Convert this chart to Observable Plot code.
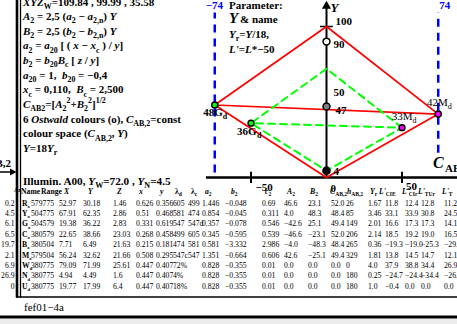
<!DOCTYPE html>
<html><head><meta charset="utf-8">
<script src="https://cdn.jsdelivr.net/npm/d3@7"></script>
<script src="https://cdn.jsdelivr.net/npm/@observablehq/plot@0.6"></script>
<style>
html,body{margin:0;padding:0;background:#fff;}
#chart{position:relative;width:457px;height:324px;overflow:hidden;}
#chart svg{display:block;}
</style></head><body><div id="chart"></div>
<script>
// ---------- chart data (C_AB,2 , Y) ----------
const ptC = [0, 0, 0, -74, 74, -50, 50];
const ptY = [90, 47, 4.5, 48, 42, 36, 33];
const ptCat = ["W", "Z", "N", "Gd", "Md", "Go", "Mo"];
const ptLabel = ["90", "47", "4", "48G", "42M", "36G", "33M"];
const ptSub = ["", "", "", "d", "d", "d", "d"];

const redC = [-74, 0, 74, 0, -74, 74];
const redY = [48, 100, 42, 0, 48, 42];
const greenC = [50, 0, -50, 0, 50, -50];
const greenY = [33, 72, 36, 4.5, 33, 36];

const blueC = [-74, 74];
const blueLow = [3, 16];
const blueLabels = ["\u221274", "74"];
const xTicks = [-50, 0, 50];
const xTickLabels = ["\u221250", "0", "50"];
const yTicks = [100, 50];
const yTickLabels = ["100", "50"];

// ---------- text data ----------
const leftLines = [
  "~{XYZ}_{W}=109.84 , 99.99 , 35.58",
  "~{A}_{2} = 2,5 (~{a}_{2} \u2212 ~{a}_{2,n}) ~{Y}",
  "~{B}_{2} = 2,5 (~{b}_{2} \u2212 ~{b}_{2,n}) ~{Y}",
  "~{a}_{2} = ~{a}_{20} [ ( ~{x} \u2212 ~{x}_{c} ) / ~{y}]",
  "~{b}_{2} = ~{b}_{20}~{B}_{c} [ ~{z} / ~{y}]",
  "~{a}_{20} = 1,  ~{b}_{20} = \u22120,4",
  "~{x}_{c} = 0,110,  ~{B}_{c} = 2,500",
  "~{C}_{AB2}=[~{A}_{2}^{2}+~{B}_{2}^{2}]^{1/2}",
  "6 ~{Ostwald} colours (o), ~{C}_{AB,2}=const",
  "colour space (~{C}_{AB,2}, ~{Y})",
  "~{Y}=18~{Y}_{r}"
];
const paramLines = ["Parameter:", "& name", "~{Y}_{r}=~{Y}/18,", "~{L'}=~{L}*\u221250"];
const illumLine = "Illumin. A00, ~{Y}_{W}=72.0 , ~{Y}_{N}=4.5";
const header = ["Name", "Range", "~{X}", "~{Y}", "~{Z}", "~{x}", "~{y}", "\u03bb_{d}", "\u03bb_{c}",
  "~{a}_{2}", "~{b}_{2}", "~{c}_{2}", "~{A}_{2}", "~{B}_{2}", "~{C}_{AB,2}", "~{h}_{AB,2}",
  "~{Y}_{r}", "~{L'}_{CIE}", "~{L'}_{CIr}", "~{L'}_{TUr}", "~{L'}_{T}"];
const rowR = ["R_{o}", "579_775", "52.97", "30.18", "1.46", "0.626", "0.356", "605", "499", "1.446", "\u22120.048", "0.69", "46.6", "23.1", "52.0", "26", "1.67", "11.8", "12.4", "12.8", "11.2"];
const rowY = ["Y_{o}", "504_775", "67.91", "62.35", "2.86", "0.51", "0.468", "581", "474", "0.854", "\u22120.045", "0.311", "4.0", "48.3", "48.4", "85", "3.46", "33.1", "33.9", "30.8", "24.5"];
const rowG = ["G_{o}", "504_579", "19.38", "36.22", "2.83", "0.331", "0.619", "547", "547d", "0.357", "\u22120.078", "0.546", "\u221242.6", "25.1", "49.4", "149", "2.01", "16.6", "17.3", "17.3", "14.1"];
const rowC = ["C_{o}", "380_579", "22.65", "38.66", "23.03", "0.268", "0.458", "499", "605", "0.345", "\u22120.595", "0.539", "\u221246.6", "\u221223.1", "52.0", "206", "2.14", "18.5", "19.2", "19.0", "16.5"];
const rowB = ["B_{o}", "380_504", "7.71", "6.49", "21.63", "0.215", "0.181", "474", "581", "0.581", "\u22123.332", "2.986", "\u22124.0", "\u221248.3", "48.4", "265", "0.36", "\u221219.3", "\u221219.0", "\u221225.3", "\u221229.7"];
const rowM = ["M_{o}", "579_504", "56.24", "32.62", "21.66", "0.508", "0.295", "547c", "547", "1.351", "\u22120.664", "0.606", "42.6", "\u221225.1", "49.4", "329", "1.81", "13.8", "14.5", "14.7", "12.1"];
const rowW = ["W_{d}", "380_775", "79.09", "71.99", "25.61", "0.447", "0.407", "72%", "", "0.828", "\u22120.355", "0.01", "0.0", "0.0", "0.0", "0", "4.0", "37.9", "38.8", "34.4", "26.9"];
const rowN = ["N_{d}", "380_775", "4.94", "4.49", "1.6", "0.447", "0.407", "4%", "", "0.828", "\u22120.355", "0.01", "0.0", "0.0", "0.0", "180", "0.25", "\u221224.7", "\u221224.4", "\u221234.4", "\u221226.9"];
const rowU = ["U_{d}", "380_775", "19.77", "17.99", "6.4", "0.447", "0.407", "18%", "", "0.828", "\u22120.355", "0.01", "0.0", "0.0", "0.0", "180", "1.0", "\u22120.4", "0.0", "0.0", "0.0"];
const rows = [rowR, rowY, rowG, rowC, rowB, rowM, rowW, rowN, rowU];
const stripVals = ["0.2", "4.5", "6.1", "6.5", "19.7", "2.1", "6.9", "26.9", "0"];

// ---------- styles / layout ----------
const FONT = "'Liberation Serif','Times New Roman',serif";
const fillOf = {W: "white", Z: "#808080", N: "black", Gd: "#00ff00", Md: "#ff00ff", Go: "#00ff00", Mo: "#ff00ff"};
const radiusOf = {W: 7, Z: 7, N: 7.5, Gd: 5.5, Md: 5.5, Go: 5, Mo: 5};
const labelOff = [
  {dx: 7, dy: 3, anchor: "start", weight: "bold"},
  {dx: 9, dy: 4, anchor: "start", weight: "bold"},
  {dx: 7, dy: 1, anchor: "start", weight: "bold"},
  {dx: 8, dy: 7, anchor: "end", weight: "bold", sdx: 8},
  {dx: 9.5, dy: -11.5, anchor: "end", weight: "normal", sdx: 9.5},
  {dx: -14, dy: 8.5, anchor: "start", weight: "bold", sdx: 6},
  {dx: 10.5, dy: -11, anchor: "end", weight: "normal", sdx: 10.5}
];
const blueLabDx = [-9, 1];

const K = 1.51; // px per unit
const X0 = 326, Y0 = 177;

const idx = d3.range(ptC.length);
const marks = [
  // blue dashed limits
  Plot.ruleX(blueC, {y1: blueLow, y2: 109, stroke: "#0000ff", strokeWidth: 2.5, strokeDasharray: "8,6"})
];
blueC.forEach((c, i) => marks.push(Plot.text([c], {x: c, y: 109, text: () => blueLabels[i], dx: blueLabDx[i], dy: -7,
  textAnchor: "start", fill: "#0000ff", fontWeight: "bold", fontSize: 11})));
marks.push(
  // axes
  Plot.ruleY([0], {x1: -79.5, x2: 100, stroke: "black", strokeWidth: 2.5}),
  Plot.ruleX([0], {y1: 0, y2: 113, stroke: "black", strokeWidth: 2}),
  Plot.dot([0], {x: [0], y: [113.5], symbol: "triangle", r: 3.4, fill: "black", stroke: "none"}),
  Plot.ruleX([-50, 50], {y1: -4, y2: 3.5, stroke: "black", strokeWidth: 2}),
  Plot.ruleY([100], {x1: -4, x2: 4.5, stroke: "black", strokeWidth: 1.5}),
  // hull lines
  Plot.line(redC, {x: redC, y: redY, stroke: "#ff0000", strokeWidth: 1.7, curve: "linear"}),
  Plot.line(greenC, {x: greenC, y: greenY, stroke: "#00ff00", strokeWidth: 2, strokeDasharray: "7,5", curve: "linear"}),
  // points
  Plot.dot(idx, {x: i => ptC[i], y: i => ptY[i], r: i => radiusOf[ptCat[i]], fill: i => fillOf[ptCat[i]],
    stroke: "black", strokeWidth: 1.5})
);
// point labels
idx.forEach(i => {
  const o = labelOff[i];
  marks.push(Plot.text([i], {x: ptC[i], y: ptY[i], text: () => ptLabel[i], dx: o.dx, dy: o.dy,
    textAnchor: o.anchor, fontWeight: o.weight, fontSize: 11, fill: "black"}));
  if (ptSub[i]) marks.push(Plot.text([i], {x: ptC[i], y: ptY[i], text: () => ptSub[i], dx: o.sdx, dy: o.dy + 4,
    textAnchor: "start", fontWeight: o.weight, fontSize: 8, fill: "black"}));
});
// axis tick labels
const xLabOff = [{dx: 4.5, dy: 9.5}, {dx: 4, dy: 11}, {dx: 4, dy: 9}];
xTicks.forEach((t, i) => marks.push(Plot.text([t], {x: t, y: 0, text: () => xTickLabels[i],
  dx: xLabOff[i].dx, dy: xLabOff[i].dy, textAnchor: "start", fontWeight: "bold", fontSize: 11})));
const yLabOff = [{dx: 9, dy: -5}, {dx: 7, dy: -10}];
yTicks.forEach((t, i) => marks.push(Plot.text([t], {x: 0, y: t, text: () => yTickLabels[i],
  dx: yLabOff[i].dx, dy: yLabOff[i].dy, textAnchor: "start", fontWeight: "bold", fontSize: 11})));
marks.push(Plot.text(["Y"], {x: 0, y: 113.5, text: d => d, dx: 4, dy: 1.5, textAnchor: "start",
  fontWeight: "bold", fontStyle: "italic", fontSize: 13}));

const svg = Plot.plot({
  width: 457, height: 324, margin: 0,
  x: {domain: [-100, 80], range: [X0 - 100 * K, X0 + 80 * K], axis: null},
  y: {domain: [0, 100], range: [Y0, Y0 - 100 * K], axis: null},
  style: {fontFamily: FONT, fontSize: "11px", background: "white", overflow: "hidden"},
  marks
});
document.getElementById("chart").appendChild(svg);

// ---------- rich text overlay ----------
const ov = d3.select(svg).append("g").attr("font-family", FONT);
function rich(parent, str, x, y, o = {}) {
  const size = o.size || 11;
  const subScale = o.subScale || 0.72;
  const t = parent.append("text").attr("x", x).attr("y", y)
    .attr("font-size", size).attr("font-weight", o.weight || "bold")
    .attr("text-anchor", o.anchor || "start").attr("fill", o.fill || "black")
    .style("white-space", "pre");
  if (o.italic) t.attr("font-style", "italic");
  const re = /([_^~])\{([^}]*)\}|([^_^~]+)/g;
  let m, cur = 0;
  while ((m = re.exec(str))) {
    const kind = m[1] || "", txt = m[1] ? m[2] : m[3];
    const span = t.append("tspan").text(txt);
    let off = 0;
    if (kind === "_") { off = 0.3 * size; span.attr("font-size", size * subScale); }
    else if (kind === "^") { off = -0.42 * size; span.attr("font-size", size * subScale); }
    else if (kind === "~") span.attr("font-style", "italic");
    if (off !== cur) { span.attr("dy", off - cur); cur = off; }
  }
  return t;
}

// frame lines
ov.append("line").attr("x1", 17).attr("x2", 17).attr("y1", 0).attr("y2", 297.5).attr("stroke", "black").attr("stroke-width", 2.6);
ov.append("line").attr("x1", 20.5).attr("x2", 20.5).attr("y1", 0).attr("y2", 297.5).attr("stroke", "black").attr("stroke-width", 1.3);
ov.append("line").attr("x1", 16).attr("x2", 457).attr("y1", 297).attr("y2", 297).attr("stroke", "black").attr("stroke-width", 1.5);
ov.append("rect").attr("x", 0).attr("y", 318.5).attr("width", 457).attr("height", 6).attr("fill", "#ececec");
ov.append("line").attr("x1", 0).attr("x2", 457).attr("y1", 317).attr("y2", 317).attr("stroke", "black").attr("stroke-width", 3);
rich(ov, "fef01\u22124a", 24, 311, {weight: "normal", size: 11});

// left text block
leftLines.forEach((s, i) => rich(ov, s, 23, 5.5 + 14.65 * i, {size: 11}));
// parameter block
rich(ov, paramLines[0], 229, 8.5, {size: 11});
rich(ov, "~{Y}", 229, 23, {size: 15});
rich(ov, paramLines[1], 240, 23, {size: 11});
rich(ov, paramLines[2], 229, 38, {size: 11});
rich(ov, paramLines[3], 229, 53, {size: 11});
// C_AB axis name
rich(ov, "~{C}", 433, 168, {size: 16});
rich(ov, "AB", 445, 172, {size: 11});
// left strip (neighbour page)
rich(ov, "B,2", 11, 167, {size: 11, anchor: "end"});
ov.append("line").attr("x1", 0).attr("x2", 11).attr("y1", 172).attr("y2", 172).attr("stroke", "black").attr("stroke-width", 1.5);
ov.append("path").attr("d", "M10,168.5 L16.5,172 L10,175.5 Z").attr("fill", "black");
rich(ov, "Ar", 14, 192, {size: 6});
stripVals.forEach((v, i) => rich(ov, v, 14.5, 205.5 + 10.4 * i, {size: 7.7, weight: "normal", anchor: "end"}));

// illuminant line + table
rich(ov, illumLine, 23, 184.5, {size: 11.2});
const colX = [22, 31, 59, 83, 113, 136, 156, 173, 188, 202, 225, 262, 284, 308, 331, 346, 368, 385, 405, 421, 444];
const headX = [21, 41, 64, 88, 117, 139, 160, 175, 191, 205, 231, 265, 287, 310, 330, 347, 370, 379, 402, 418, 442];
header.forEach((h, j) => rich(ov, h, headX[j], 194, {size: 7.7}));
rows.forEach((r, i) => r.forEach((v, j) => {
  if (v) rich(ov, v, colX[j], 205.5 + 10.4 * i, {size: 7.7, weight: j === 0 ? "bold" : "normal", subScale: 0.6});
}));
</script></body></html>
